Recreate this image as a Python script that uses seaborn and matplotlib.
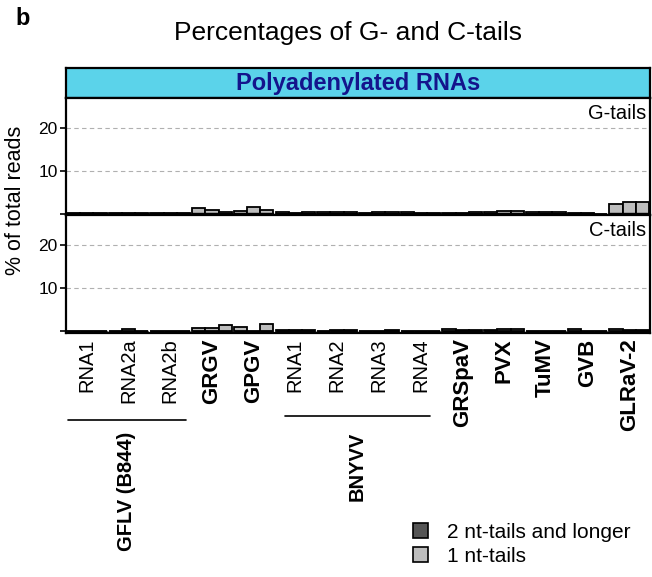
import matplotlib
matplotlib.use("Agg")
import matplotlib.pyplot as plt
import matplotlib.transforms as mtransforms
from matplotlib.patches import Patch
import numpy as np
import pandas as pd
import seaborn as sns

sns.set_theme(style="white")
plt.rcParams["font.family"] = ["Liberation Sans", "DejaVu Sans"]
plt.rcParams["text.color"] = "black"
plt.rcParams["xtick.color"] = "black"
plt.rcParams["ytick.color"] = "black"

# Category keys (unique) and their displayed labels
cat_keys = ["GFLV_RNA1", "GFLV_RNA2a", "GFLV_RNA2b", "GRGV", "GPGV",
            "BNYVV_RNA1", "BNYVV_RNA2", "BNYVV_RNA3", "BNYVV_RNA4",
            "GRSpaV", "PVX", "TuMV", "GVB", "GLRaV-2"]
cat_labels = ["RNA1", "RNA2a", "RNA2b", "GRGV", "GPGV",
              "RNA1", "RNA2", "RNA3", "RNA4",
              "GRSpaV", "PVX", "TuMV", "GVB", "GLRaV-2"]
bold_labels = [False, False, False, True, True,
               False, False, False, False,
               True, True, True, True, True]
replicates = ["rep1", "rep2", "rep3"]

# G-tails: % of reads with 1-nt tails, per replicate
g_1nt = [[0.15, 0.15, 0.15], [0.05, 0.10, 0.10], [0.10, 0.10, 0.10],
         [1.10, 0.80, 0.30], [0.50, 1.40, 0.70],
         [0.20, 0.15, 0.20], [0.15, 0.15, 0.15], [0.15, 0.15, 0.15],
         [0.15, 0.10, 0.10],
         [0.15, 0.15, 0.20], [0.20, 0.50, 0.40], [0.20, 0.20, 0.20],
         [0.15, 0.05, 0.00], [2.15, 2.60, 2.60]]
# G-tails: % of reads with tails of 2 nt and longer
g_2nt = [[0.05, 0.05, 0.05], [0.05, 0.05, 0.05], [0.05, 0.05, 0.05],
         [0.10, 0.10, 0.10], [0.10, 0.10, 0.10],
         [0.10, 0.05, 0.10], [0.10, 0.10, 0.10], [0.05, 0.10, 0.10],
         [0.10, 0.10, 0.10],
         [0.05, 0.05, 0.10], [0.05, 0.10, 0.10], [0.10, 0.10, 0.10],
         [0.05, 0.05, 0.00], [0.10, 0.10, 0.10]]
# C-tails: % of reads with 1-nt tails, per replicate
c_1nt = [[0.10, 0.10, 0.10], [0.10, 0.40, 0.10], [0.10, 0.10, 0.10],
         [0.70, 0.70, 1.40], [0.85, 0.05, 1.50],
         [0.10, 0.10, 0.10], [0.10, 0.10, 0.10], [0.10, 0.10, 0.10],
         [0.05, 0.10, 0.10],
         [0.40, 0.10, 0.10], [0.15, 0.35, 0.35], [0.10, 0.10, 0.10],
         [0.40, 0.10, 0.00], [0.40, 0.15, 0.15]]
# C-tails: % of reads with tails of 2 nt and longer
c_2nt = [[0.05, 0.05, 0.05], [0.05, 0.10, 0.05], [0.05, 0.05, 0.05],
         [0.10, 0.10, 0.10], [0.10, 0.05, 0.10],
         [0.10, 0.10, 0.10], [0.05, 0.10, 0.10], [0.05, 0.05, 0.10],
         [0.05, 0.05, 0.05],
         [0.15, 0.10, 0.10], [0.10, 0.10, 0.10], [0.05, 0.05, 0.05],
         [0.10, 0.05, 0.00], [0.10, 0.10, 0.10]]

panel_names = ["G-tails", "C-tails"]
legend_labels = ["2 nt-tails and longer", "1 nt-tails"]

light = "#bdbdbd"
dark = "#555555"


def to_frame(one_nt, two_nt):
    rows = []
    for key, a, b in zip(cat_keys, one_nt, two_nt):
        for rep, v1, v2 in zip(replicates, a, b):
            rows.append({"cat": key, "rep": rep, "one": v1, "two": v2,
                         "total": v1 + v2})
    return pd.DataFrame(rows)


frames = [to_frame(g_1nt, g_2nt), to_frame(c_1nt, c_2nt)]

fig = plt.figure(figsize=(6.52, 5.77), dpi=100)
left, right = 0.101, 0.997
ax_strip = fig.add_axes([left, 0.830, right - left, 0.052])
ax_g = fig.add_axes([left, 0.627, right - left, 0.203])
ax_c = fig.add_axes([left, 0.423, right - left, 0.204])

# Strip header
ax_strip.set_facecolor("#5bd3ea")
ax_strip.set_xticks([])
ax_strip.set_yticks([])
for s in ax_strip.spines.values():
    s.set_color("black")
    s.set_linewidth(1.6)
ax_strip.text(0.5, 0.47, "Polyadenylated RNAs", ha="center", va="center",
              fontsize=17, fontweight="bold", color="#14148c",
              transform=ax_strip.transAxes)

for ax, df, name in zip([ax_g, ax_c], frames, panel_names):
    for yv in [0, 10, 20]:
        ax.axhline(yv, color="#b0b0b0", lw=0.8, ls=(0, (4, 3)), zorder=0)
    sns.barplot(data=df, x="cat", y="total", hue="rep", order=cat_keys,
                hue_order=replicates, palette=[light] * 3, dodge=True,
                width=0.95, edgecolor="black", linewidth=1.3,
                errorbar=None, legend=False, ax=ax, zorder=2)
    sns.barplot(data=df, x="cat", y="two", hue="rep", order=cat_keys,
                hue_order=replicates, palette=[dark] * 3, dodge=True,
                width=0.95, edgecolor="black", linewidth=1.0,
                errorbar=None, legend=False, ax=ax, zorder=3)
    ax.set_xlim(-0.5, len(cat_keys) - 0.5)
    ax.set_ylim(-0.4, 27)
    ax.set_yticks([0, 10, 20])
    ax.set_yticklabels(["", "10", "20"])
    ax.tick_params(axis="y", direction="out", length=4, width=1.2,
                   labelsize=12.5, pad=2, left=True)
    ax.set_xlabel("")
    ax.set_ylabel("")
    for s in ax.spines.values():
        s.set_color("black")
        s.set_linewidth(1.6)
    ax.text(0.993, 0.87, name, ha="right", va="center", fontsize=14.5,
            transform=ax.transAxes)

ax_g.set_xticks([])
ax_c.set_xticks(range(len(cat_keys)))
ax_c.set_xticklabels(cat_labels, rotation=90, va="top", ha="center")
ax_c.tick_params(axis="x", length=0, pad=4)
for lab, b in zip(ax_c.get_xticklabels(), bold_labels):
    if b:
        lab.set_fontweight("bold")
        lab.set_fontsize(16)
    else:
        lab.set_fontsize(14.5)

# Virus group brackets under the segment labels
trans = mtransforms.blended_transform_factory(ax_c.transData, fig.transFigure)
groups = [("GFLV (B844)", -0.45, 2.38, 0.272),
          ("BNYVV", 4.75, 8.22, 0.279)]
for gname, x0, x1, yl in groups:
    ax_c.plot([x0, x1], [yl, yl], color="black", lw=1.2, transform=trans,
              clip_on=False)
    ax_c.text((x0 + x1) / 2, 0.251, gname, rotation=90, ha="center",
              va="top", fontsize=14.5, fontweight="bold", transform=trans)

fig.text(0.024, 0.653, "% of total reads", rotation=90, ha="center",
         va="center", fontsize=15.5)
fig.text(0.534, 0.943, "Percentages of G- and C-tails", ha="center",
         va="center", fontsize=19)
fig.text(0.034, 0.968, "b", ha="center", va="center", fontsize=17,
         fontweight="bold")

handles = [Patch(facecolor=dark, edgecolor="black", linewidth=1.2),
           Patch(facecolor=light, edgecolor="black", linewidth=1.2)]
fig.legend(handles, legend_labels, loc="center left",
           bbox_to_anchor=(0.604, 0.057), frameon=False, fontsize=15,
           handlelength=0.75, handleheight=0.75, handletextpad=0.9,
           labelspacing=0.25)

fig.savefig("out.png", dpi=100)
